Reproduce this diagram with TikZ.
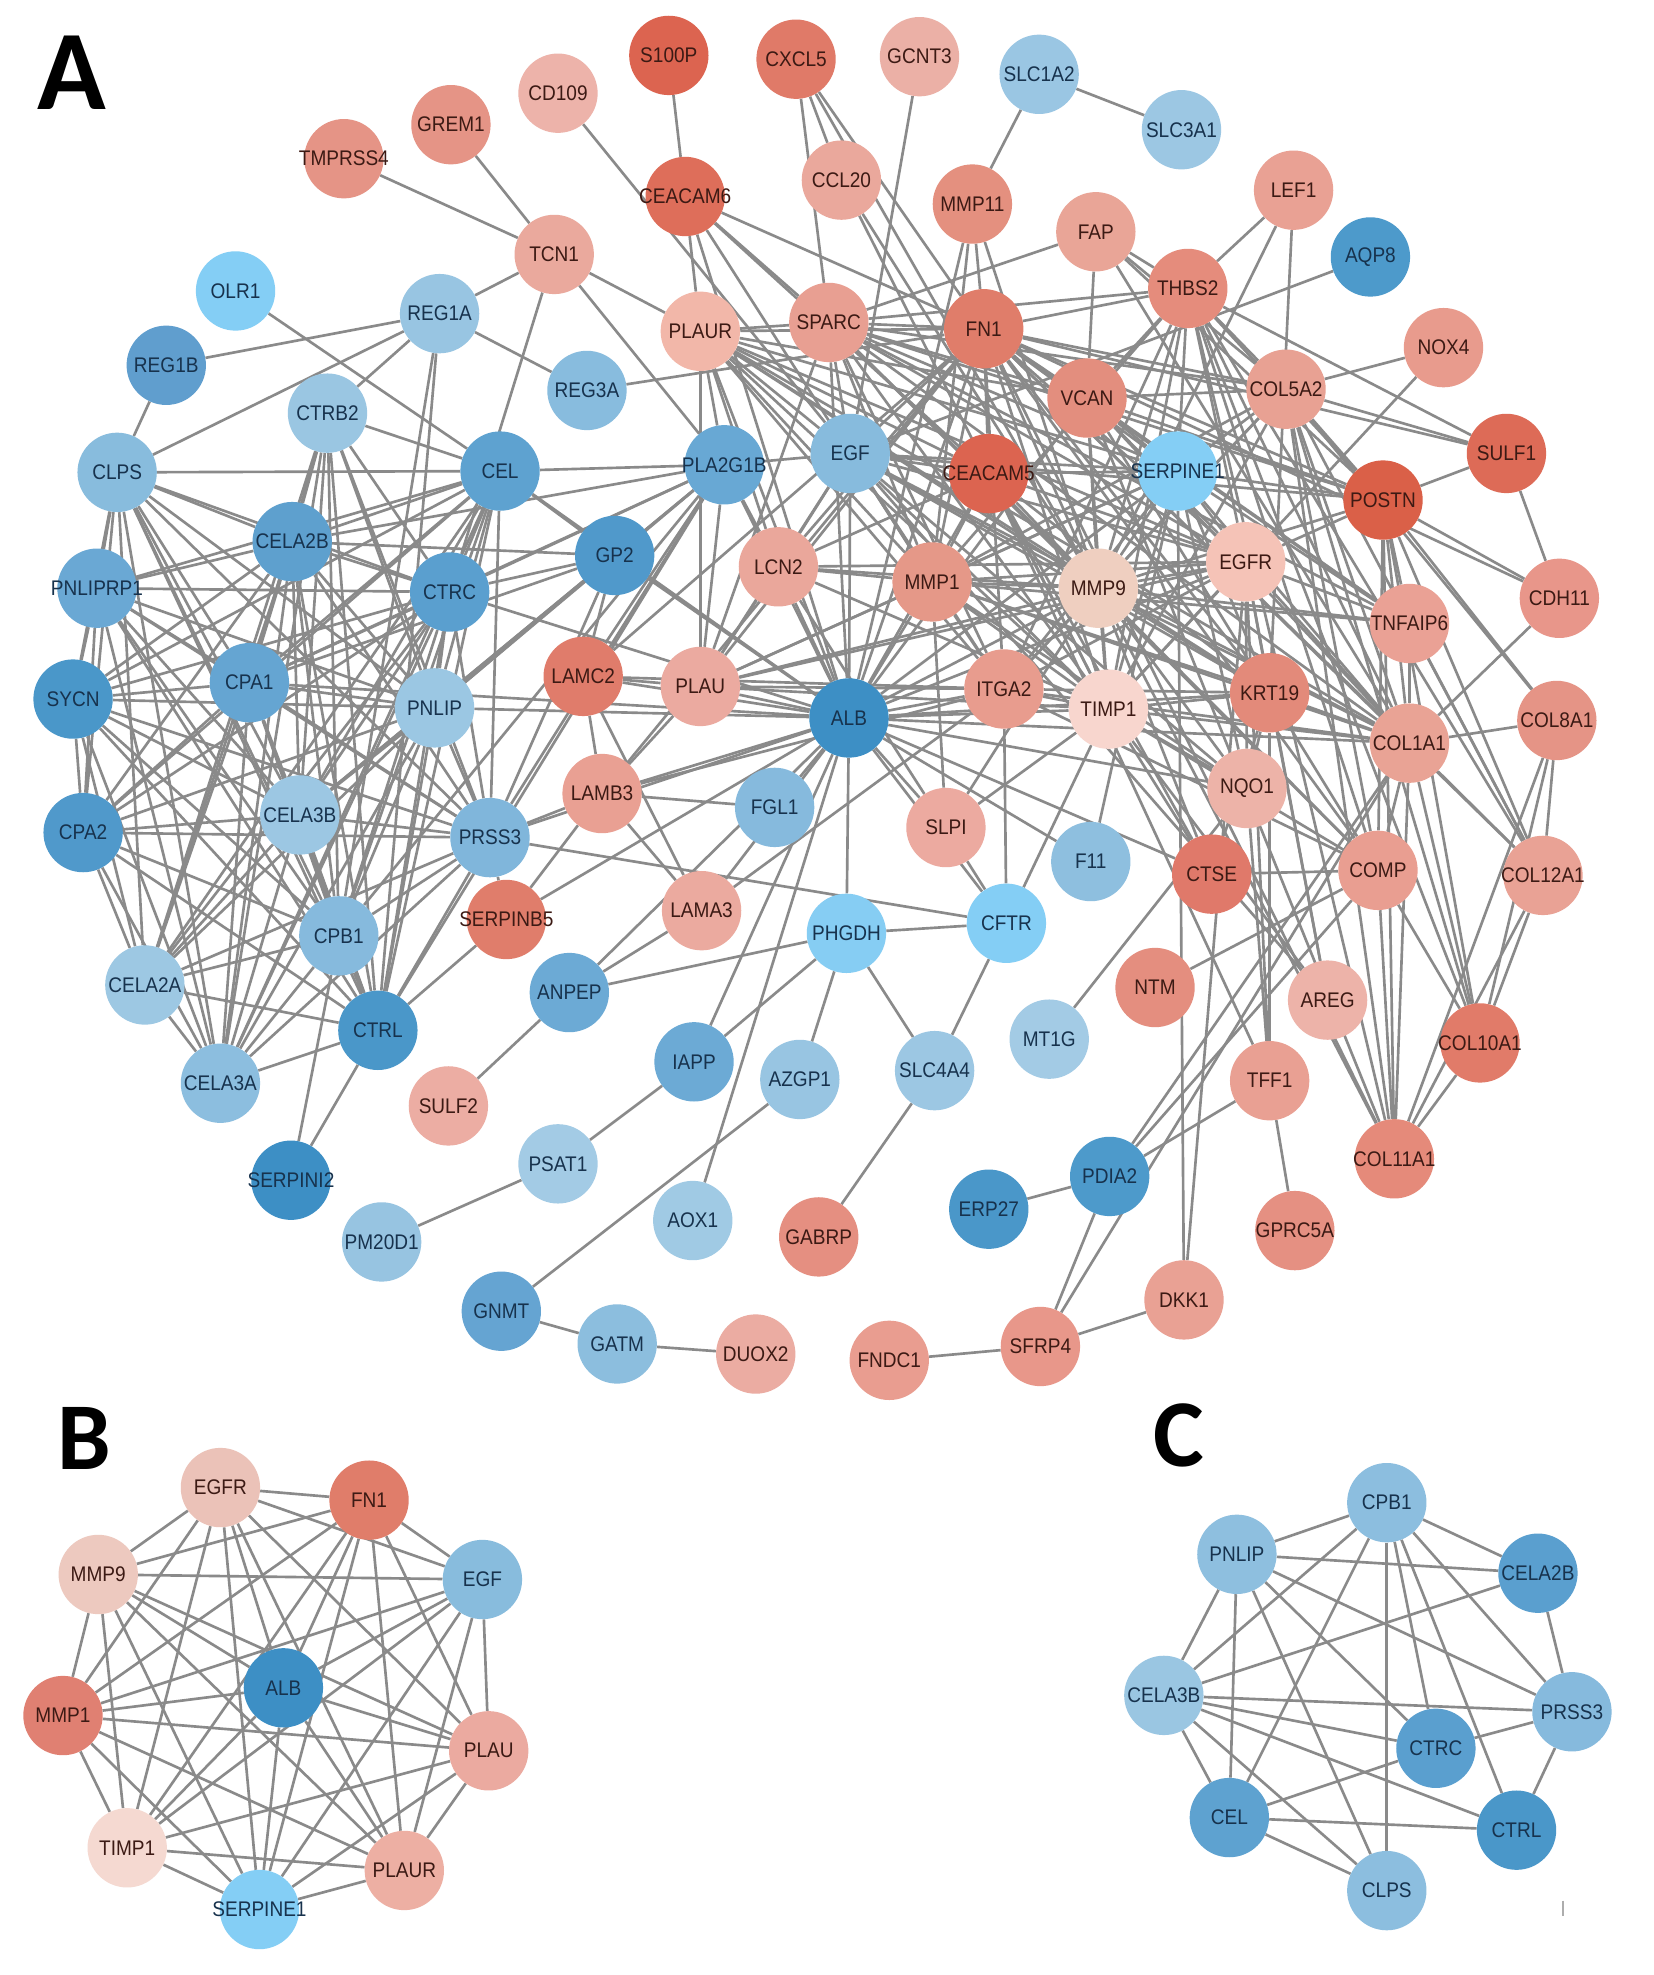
\documentclass[tikz,border=0pt]{standalone}
\usepackage{fontspec}
\setmainfont{Liberation Sans}[FakeStretch=0.9]
\newfontfamily\panelfont{Carlito}
\definecolor{rtext}{HTML}{3C1A14}
\definecolor{btext}{HTML}{17324D}
\definecolor{edgegray}{HTML}{8A8A8A}
\pgfdeclarelayer{bglayer}
\pgfdeclarelayer{edgelayer}
\pgfsetlayers{bglayer,edgelayer,main}
\tikzset{
  gn/.style={circle, minimum size=63pt, inner sep=0pt, draw=none, font=\fontsize{16.8}{16.8}\selectfont},
  edge/.style={draw=edgegray, line width=2.1pt},
  letter/.style={inner sep=0pt, text=black}
}
\newcommand\RN[5]{\definecolor{fc#1}{HTML}{#4}\node[gn, fill=fc#1, text=rtext] (#1) at (#2,-#3) {\makebox[0pt]{#5}};}
\newcommand\BN[5]{\definecolor{fc#1}{HTML}{#4}\node[gn, fill=fc#1, text=btext] (#1) at (#2,-#3) {\makebox[0pt]{#5}};}
\begin{document}
\begin{tikzpicture}[x=1pt,y=1pt]
\begin{pgfonlayer}{bglayer}
\fill[white] (0,0) rectangle (1313,-1568);
\end{pgfonlayer}
\useasboundingbox (0,0) rectangle (1313,-1568);

% panel letters
\node[letter, font={\panelfont\bfseries\fontsize{90}{90}\selectfont}] (lA) at (57,-58) {A};
\node[letter, font={\panelfont\bfseries\fontsize{76}{76}\selectfont}] (lB) at (67,-1142) {B};
\node[letter, font={\panelfont\bfseries\fontsize{76}{76}\selectfont}] (lC) at (936,-1140) {C};

% ---------- panel A nodes ----------
\RN{S100P}{531}{44}{DC6450}{S100P}
\RN{CXCL5}{632}{47}{E07A68}{CXCL5}
\RN{GCNT3}{730}{45}{EBB0A6}{GCNT3}
\BN{SLC1A2}{825}{59}{9AC6E3}{SLC1A2}
\BN{SLC3A1}{938}{103}{9CC7E3}{SLC3A1}
\RN{CD109}{443}{74}{EDB3AA}{CD109}
\RN{GREM1}{358}{99}{E59486}{GREM1}
\RN{TMPRSS4}{273}{126}{E59486}{TMPRSS4}
\RN{CEACAM6}{544}{156}{DE6E5A}{CEACAM6}
\RN{CCL20}{668}{143}{EAA89C}{CCL20}
\RN{MMP11}{772}{162}{E4907F}{MMP11}
\RN{FAP}{870}{184}{E9A597}{FAP}
\RN{LEF1}{1027}{151}{E9A194}{LEF1}
\BN{AQP8}{1088}{204}{4D9ACB}{AQP8}
\RN{TCN1}{440}{202}{EAA99D}{TCN1}
\BN{OLR1}{187}{231}{84CEF5}{OLR1}
\BN{REG1A}{349}{249}{98C5E2}{REG1A}
\RN{PLAUR}{556}{263}{F2B7A9}{PLAUR}
\RN{SPARC}{658}{256}{E89F92}{SPARC}
\RN{FN1}{781}{261}{E07D6A}{FN1}
\RN{THBS2}{943}{229}{E58C7C}{THBS2}
\RN{NOX4}{1146}{276}{E89B8D}{NOX4}
\BN{REG1B}{132}{290}{609ECE}{REG1B}
\BN{REG3A}{466}{310}{88BCDE}{REG3A}
\RN{VCAN}{863}{316}{E38E7E}{VCAN}
\RN{COL5A2}{1021}{309}{E8A193}{COL5A2}
\RN{SULF1}{1196}{360}{DD6B57}{SULF1}
\BN{CTRB2}{260}{328}{9AC6E2}{CTRB2}
\BN{CLPS}{93}{375}{88BCDD}{CLPS}
\BN{CEL}{397}{374}{5EA2D0}{CEL}
\BN{PLA2G1B}{575}{369}{68A8D4}{PLA2G1B}
\BN{EGF}{675}{360}{87BBDD}{EGF}
\RN{CEACAM5}{785}{376}{DC6450}{CEACAM5}
\BN{SERPINE1}{935}{374}{84CEF5}{SERPINE1}
\RN{POSTN}{1098}{397}{DA6048}{POSTN}
\BN{CELA2B}{232}{430}{5EA0CE}{CELA2B}
\BN{GP2}{488}{441}{5099CB}{GP2}
\BN{CTRC}{357}{470}{5A9FCF}{CTRC}
\BN{PNLIPRP1}{77}{467}{6AA8D4}{PNLIPRP1}
\RN{LCN2}{618}{450}{EAA79B}{LCN2}
\RN{MMP1}{740}{462}{E59888}{MMP1}
\RN{MMP9}{872}{467}{EFCFC0}{MMP9}
\RN{EGFR}{989}{446}{F5C3B7}{EGFR}
\RN{CDH11}{1238}{475}{E8968A}{CDH11}
\RN{TNFAIP6}{1119}{495}{EAA195}{TNFAIP6}
\BN{SYCN}{58}{555}{4A97C9}{SYCN}
\BN{CPA1}{198}{542}{65A5D2}{CPA1}
\BN{PNLIP}{345}{562}{9BC7E3}{PNLIP}
\RN{LAMC2}{463}{537}{E07C6B}{LAMC2}
\RN{PLAU}{556}{545}{EBAAA0}{PLAU}
\BN{ALB}{674}{570}{3D8FC5}{ALB}
\RN{ITGA2}{797}{547}{E89C8E}{ITGA2}
\RN{TIMP1}{880}{563}{F8D6CE}{TIMP1}
\RN{KRT19}{1008}{550}{E38A7A}{KRT19}
\RN{COL1A1}{1119}{590}{E9A395}{COL1A1}
\RN{COL8A1}{1236}{572}{E59486}{COL8A1}
\BN{CPA2}{66}{661}{5099CB}{CPA2}
\BN{CELA3B}{238}{647}{9CC7E3}{CELA3B}
\BN{PRSS3}{389}{665}{80B6DB}{PRSS3}
\RN{LAMB3}{478}{630}{E9A093}{LAMB3}
\BN{FGL1}{615}{641}{86BADD}{FGL1}
\RN{SLPI}{751}{657}{ECAAA0}{SLPI}
\RN{NQO1}{990}{626}{EDB3A8}{NQO1}
\BN{F11}{866}{684}{8EBFDF}{F11}
\RN{CTSE}{962}{694}{E0796A}{CTSE}
\RN{COMP}{1094}{691}{E99E91}{COMP}
\RN{COL12A1}{1225}{695}{E9A295}{COL12A1}
\RN{SERPINB5}{402}{730}{E07D6B}{SERPINB5}
\RN{LAMA3}{557}{723}{EBAA9F}{LAMA3}
\BN{CPB1}{269}{743}{86BADD}{CPB1}
\BN{PHGDH}{672}{741}{86CDF3}{PHGDH}
\BN{CFTR}{799}{733}{84CEF5}{CFTR}
\BN{CELA2A}{115}{782}{9DC8E3}{CELA2A}
\BN{ANPEP}{452}{788}{6CAAD5}{ANPEP}
\RN{NTM}{917}{784}{E48E7F}{NTM}
\RN{AREG}{1054}{794}{EDB3A9}{AREG}
\RN{COL10A1}{1175}{828}{E17B69}{COL10A1}
\BN{CTRL}{300}{818}{4A97C9}{CTRL}
\BN{MT1G}{833}{825}{A3CBE5}{MT1G}
\BN{IAPP}{551}{843}{6CAAD5}{IAPP}
\BN{AZGP1}{635}{857}{98C5E2}{AZGP1}
\BN{SLC4A4}{742}{850}{9CC7E3}{SLC4A4}
\RN{TFF1}{1008}{858}{E9A093}{TFF1}
\BN{CELA3A}{175}{860}{8CBEDF}{CELA3A}
\RN{SULF2}{356}{878}{ECADA3}{SULF2}
\RN{COL11A1}{1107}{920}{E58A7A}{COL11A1}
\BN{PSAT1}{443}{924}{A3CBE5}{PSAT1}
\BN{SERPINI2}{231}{937}{3D8FC5}{SERPINI2}
\BN{PDIA2}{881}{934}{4D9ACB}{PDIA2}
\BN{ERP27}{785}{960}{4A97C9}{ERP27}
\BN{AOX1}{550}{969}{A0CAE4}{AOX1}
\RN{GABRP}{650}{982}{E58F81}{GABRP}
\RN{GPRC5A}{1028}{977}{E59082}{GPRC5A}
\BN{PM20D1}{303}{986}{97C4E1}{PM20D1}
\RN{DKK1}{940}{1032}{E9A194}{DKK1}
\BN{GNMT}{398}{1041}{65A4D2}{GNMT}
\BN{GATM}{490}{1067}{8CBEDE}{GATM}
\RN{DUOX2}{600}{1075}{EBACA2}{DUOX2}
\RN{FNDC1}{706}{1080}{E99D90}{FNDC1}
\RN{SFRP4}{826}{1069}{E8978A}{SFRP4}

% ---------- panel B nodes ----------
\RN{B1}{175}{1181}{EBC2B8}{EGFR}
\RN{B2}{293}{1191}{E07D6A}{FN1}
\BN{B3}{383}{1254}{88BCDD}{EGF}
\RN{B4}{388}{1390}{EBAAA0}{PLAU}
\RN{B5}{321}{1485}{EDAFA3}{PLAUR}
\BN{B6}{206}{1516}{84CEF5}{SERPINE1}
\RN{B7}{101}{1467}{F5D9D1}{TIMP1}
\RN{B8}{50}{1362}{E08072}{MMP1}
\RN{B9}{78}{1250}{EDC9BF}{MMP9}
\BN{B10}{225}{1340}{3D8FC5}{ALB}

% ---------- panel C nodes ----------
\BN{cCPB1}{1101}{1193}{8CBEDF}{CPB1}
\BN{cPNLIP}{982}{1234}{8EBFDF}{PNLIP}
\BN{cCELA2B}{1221}{1249}{5A9FCF}{CELA2B}
\BN{cCELA3B}{924}{1346}{9AC6E2}{CELA3B}
\BN{cPRSS3}{1248}{1359}{86BADD}{PRSS3}
\BN{cCTRC}{1140}{1388}{5A9FCF}{CTRC}
\BN{cCEL}{976}{1443}{5EA2D0}{CEL}
\BN{cCTRL}{1204}{1453}{4A97C9}{CTRL}
\BN{cCLPS}{1101}{1501}{8CBEDF}{CLPS}

% small tick mark
\draw[edgegray!70, line width=1.2pt] (1241,-1509) -- (1241,-1521);

\begin{pgfonlayer}{edgelayer}
% periphery
\foreach \a/\b in {S100P/CEACAM6, CXCL5/CCL20, CXCL5/SPARC, CXCL5/FN1, CXCL5/MMP9, GCNT3/EGF, SLC1A2/MMP11, SLC1A2/SLC3A1, CD109/EGF, GREM1/TCN1, TMPRSS4/TCN1, TCN1/REG1A, TCN1/PLAUR, TCN1/CTRC, TCN1/PLA2G1B, OLR1/CEL, REG1A/REG1B, REG1A/CLPS, REG1A/CTRB2, REG1A/CPB1, REG1A/CTRL, REG1A/REG3A, REG1B/CLPS, CTRB2/CEL, CLPS/CEL, CEL/PLA2G1B, REG3A/FN1, CEACAM6/PLAUR, CEACAM6/SPARC, CEACAM6/FN1, CEACAM6/ALB, CEACAM6/MMP1, CEACAM6/CEACAM5, MMP11/FN1, MMP11/MMP9, MMP11/ALB, MMP11/MMP1, FAP/SPARC, FAP/THBS2, FAP/POSTN, FAP/COL1A1, FAP/COL5A2, FAP/VCAN, CCL20/MMP9, CCL20/TIMP1, AQP8/EGF, NOX4/COL5A2, NOX4/TIMP1, LEF1/THBS2, LEF1/KRT19, LEF1/MMP9}
  \draw[edge] (\a) -- (\b);
% hub
\foreach \a/\b in {PLAUR/SPARC, PLAUR/FN1, PLAUR/EGF, PLAUR/ALB, PLAUR/MMP9, PLAUR/MMP1, PLAUR/TIMP1, PLAUR/SERPINE1, PLAUR/EGFR, PLAUR/PLAU, PLAUR/ITGA2, PLAUR/CEACAM5, PLAUR/PLA2G1B, PLAUR/KRT19, PLAUR/COL1A1, PLAUR/VCAN, PLAUR/LCN2,
 SPARC/FN1, SPARC/EGF, SPARC/ALB, SPARC/MMP9, SPARC/MMP1, SPARC/TIMP1, SPARC/COL1A1, SPARC/COL5A2, SPARC/POSTN, SPARC/THBS2, SPARC/VCAN, SPARC/SERPINE1, SPARC/EGFR, SPARC/ITGA2, SPARC/COMP, SPARC/TNFAIP6, SPARC/PLAU,
 FN1/EGF, FN1/ALB, FN1/MMP9, FN1/MMP1, FN1/TIMP1, FN1/COL1A1, FN1/COL5A2, FN1/POSTN, FN1/THBS2, FN1/VCAN, FN1/SERPINE1, FN1/EGFR, FN1/ITGA2, FN1/CEACAM5, FN1/PLAU, FN1/LAMC2, FN1/LAMB3, FN1/COMP, FN1/TNFAIP6, FN1/CDH11, FN1/SULF1, FN1/LCN2, FN1/KRT19, FN1/COL11A1, FN1/COL12A1,
 EGF/ALB, EGF/EGFR, EGF/MMP9, EGF/MMP1, EGF/TIMP1, EGF/SERPINE1, EGF/PLA2G1B, EGF/CEACAM5, EGF/KRT19, EGF/ITGA2, EGF/PLAU, EGF/LCN2, EGF/AREG, EGF/NQO1, EGF/COL1A1, EGF/POSTN,
 CEACAM5/EGFR, CEACAM5/MMP9, CEACAM5/KRT19, CEACAM5/TIMP1, CEACAM5/ALB, CEACAM5/MMP1, CEACAM5/SERPINE1, CEACAM5/LCN2, CEACAM5/CTSE, CEACAM5/TFF1,
 VCAN/THBS2, VCAN/COL5A2, VCAN/POSTN, VCAN/COL1A1, VCAN/MMP9, VCAN/TIMP1, VCAN/SERPINE1, VCAN/EGFR, VCAN/COL11A1, VCAN/COMP, VCAN/TNFAIP6, VCAN/ALB,
 THBS2/COL5A2, THBS2/POSTN, THBS2/COL1A1, THBS2/SULF1, THBS2/MMP9, THBS2/TIMP1, THBS2/SERPINE1, THBS2/COMP, THBS2/COL11A1, THBS2/COL12A1, THBS2/COL10A1, THBS2/MMP1, THBS2/EGFR, THBS2/ITGA2,
 COL5A2/POSTN, COL5A2/COL1A1, COL5A2/COL11A1, COL5A2/COL12A1, COL5A2/COL10A1, COL5A2/COL8A1, COL5A2/COMP, COL5A2/MMP9, COL5A2/SERPINE1, COL5A2/ITGA2, COL5A2/TIMP1, COL5A2/SULF1, COL5A2/MMP1,
 SERPINE1/EGFR, SERPINE1/MMP9, SERPINE1/TIMP1, SERPINE1/ALB, SERPINE1/MMP1, SERPINE1/POSTN, SERPINE1/COL1A1, SERPINE1/PLAU, SERPINE1/ITGA2, SERPINE1/KRT19, SERPINE1/DKK1, SERPINE1/NQO1, SERPINE1/TNFAIP6,
 POSTN/SULF1, POSTN/CDH11, POSTN/TNFAIP6, POSTN/COL1A1, POSTN/COL8A1, POSTN/COL11A1, POSTN/COL10A1, POSTN/COL12A1, POSTN/COMP, POSTN/EGFR, POSTN/MMP9,
 EGFR/MMP9, EGFR/TIMP1, EGFR/ALB, EGFR/MMP1, EGFR/KRT19, EGFR/ITGA2, EGFR/COL1A1, EGFR/AREG, EGFR/DKK1, EGFR/NQO1, EGFR/TNFAIP6, EGFR/PLAU, EGFR/LCN2, EGFR/TFF1,
 MMP9/MMP1, MMP9/TIMP1, MMP9/ALB, MMP9/ITGA2, MMP9/LCN2, MMP9/KRT19, MMP9/COL1A1, MMP9/PLAU, MMP9/TNFAIP6, MMP9/NQO1, MMP9/COMP, MMP9/SLPI, MMP9/CTSE, MMP9/COL11A1,
 MMP1/TIMP1, MMP1/ALB, MMP1/ITGA2, MMP1/LCN2, MMP1/PLAU, MMP1/COL1A1, MMP1/KRT19, MMP1/SLPI, MMP1/TNFAIP6, MMP1/NQO1,
 LCN2/ALB, LCN2/PLAU, LCN2/TIMP1, LCN2/SLPI, LCN2/PLA2G1B}
  \draw[edge] (\a) -- (\b);
\foreach \a/\b in {ALB/PLA2G1B, ALB/PLAU, ALB/LAMC2, ALB/LAMB3, ALB/FGL1, ALB/SLPI, ALB/ITGA2, ALB/TIMP1, ALB/PHGDH, ALB/CFTR, ALB/IAPP, ALB/AOX1, ALB/ANPEP, ALB/GP2, ALB/CEL, ALB/PNLIP, ALB/PRSS3, ALB/CTRC, ALB/SERPINB5, ALB/LAMA3, ALB/NQO1, ALB/KRT19, ALB/COL1A1, ALB/CPA1, ALB/CTSE, ALB/F11,
 ITGA2/TIMP1, ITGA2/CFTR, ITGA2/COL1A1, ITGA2/LAMB3, ITGA2/LAMC2, ITGA2/LAMA3, ITGA2/PLAU, ITGA2/KRT19, ITGA2/COMP,
 TIMP1/KRT19, TIMP1/COL1A1, TIMP1/NQO1, TIMP1/CFTR, TIMP1/PLAU, TIMP1/SLPI, TIMP1/COMP, TIMP1/CTSE, TIMP1/AREG,
 KRT19/COL1A1, KRT19/NQO1, KRT19/TFF1, KRT19/CTSE, KRT19/AREG,
 COL1A1/TNFAIP6, COL1A1/CDH11, COL1A1/COL8A1, COL1A1/COMP, COL1A1/COL12A1, COL1A1/COL10A1, COL1A1/COL11A1, COL1A1/PDIA2, COL1A1/SFRP4,
 TNFAIP6/COL12A1, CDH11/SULF1,
 COL8A1/COL12A1, COL8A1/COL10A1, COL8A1/COL11A1,
 COL12A1/COL11A1, COL12A1/COL10A1,
 COMP/CTSE, COMP/COL11A1, COMP/COL10A1, COMP/NTM, COMP/PDIA2,
 COL10A1/COL11A1,
 TFF1/GPRC5A, TFF1/PDIA2, TFF1/NQO1,
 PDIA2/ERP27, PDIA2/SFRP4, SFRP4/DKK1, SFRP4/FNDC1,
 MT1G/NQO1,
 PLAU/LAMC2, PLAU/LAMB3, PLAU/PLA2G1B,
 LAMC2/LAMB3, LAMC2/GP2, LAMC2/PLA2G1B, LAMC2/LAMA3,
 LAMB3/LAMA3, LAMB3/PRSS3, LAMB3/SERPINB5,
 FGL1/LAMB3, SLPI/CFTR,
 CFTR/PHGDH, CFTR/SLC4A4, CFTR/PRSS3, F11/SERPINE1,
 PHGDH/ANPEP, PHGDH/IAPP, PHGDH/AZGP1, PHGDH/SLC4A4,
 AZGP1/GNMT, SLC4A4/GABRP, IAPP/PSAT1, ANPEP/SULF2, ANPEP/LAMA3,
 PSAT1/PM20D1, GNMT/GATM, GATM/DUOX2,
 SERPINI2/CTRL, SERPINI2/CPB1, SERPINB5/CTRL, SERPINB5/PRSS3}
  \draw[edge] (\a) -- (\b);
% pancreatic cluster
\foreach \a/\b in {GP2/CEL, GP2/CTRC, GP2/PLA2G1B, GP2/PNLIP, GP2/CELA3B, GP2/PRSS3, GP2/CPA1, GP2/CELA2B,
 PLA2G1B/CTRC, PLA2G1B/PNLIP, PLA2G1B/PRSS3, PLA2G1B/CPB1, PLA2G1B/CTRL, PLA2G1B/CELA3B, PLA2G1B/CELA2B, PLA2G1B/CPA1,
 CLPS/PNLIPRP1, CLPS/SYCN, CLPS/CPA1, CLPS/PNLIP, CLPS/CPA2, CLPS/CELA3B, CLPS/PRSS3, CLPS/CPB1, CLPS/CELA2A, CLPS/CTRL, CLPS/CELA3A, CLPS/CTRC, CLPS/CELA2B,
 CTRB2/CPB1, CTRB2/CELA3B, CTRB2/CTRL, CTRB2/CELA3A, CTRB2/CELA2A, CTRB2/PRSS3, CTRB2/CPA1, CTRB2/CTRC, CTRB2/PNLIP, CTRB2/CELA2B,
 CEL/CELA2B, CEL/CTRC, CEL/CPA1, CEL/PNLIP, CEL/PRSS3, CEL/CPB1, CEL/CTRL, CEL/CELA3B, CEL/CELA3A, CEL/SYCN, CEL/CPA2, CEL/PNLIPRP1, CEL/CELA2A,
 CELA2B/PNLIPRP1, CELA2B/CTRC, CELA2B/SYCN, CELA2B/CPA1, CELA2B/PNLIP, CELA2B/CELA3B, CELA2B/PRSS3, CELA2B/CPB1, CELA2B/CTRL, CELA2B/CELA3A, CELA2B/CELA2A, CELA2B/CPA2,
 PNLIPRP1/CPA1, PNLIPRP1/PNLIP, PNLIPRP1/CELA3B, PNLIPRP1/CTRC, PNLIPRP1/CPB1, PNLIPRP1/CELA3A, PNLIPRP1/CPA2, PNLIPRP1/SYCN, PNLIPRP1/CTRL, PNLIPRP1/PRSS3,
 CTRC/CPA1, CTRC/PNLIP, CTRC/CELA3B, CTRC/PRSS3, CTRC/CPB1, CTRC/CTRL, CTRC/CELA3A, CTRC/CELA2A, CTRC/SYCN, CTRC/CPA2,
 SYCN/CPA1, SYCN/PNLIP, SYCN/CELA3B, SYCN/CPB1, SYCN/CTRL, SYCN/CELA3A, SYCN/CELA2A, SYCN/CPA2, SYCN/PRSS3,
 CPA1/PNLIP, CPA1/CELA3B, CPA1/PRSS3, CPA1/CPB1, CPA1/CTRL, CPA1/CELA3A, CPA1/CELA2A, CPA1/CPA2,
 PNLIP/CELA3B, PNLIP/PRSS3, PNLIP/CPB1, PNLIP/CTRL, PNLIP/CELA3A, PNLIP/CELA2A, PNLIP/CPA2,
 CPA2/CELA3B, CPA2/PRSS3, CPA2/CPB1, CPA2/CELA3A, CPA2/CELA2A, CPA2/CTRL,
 CELA3B/PRSS3, CELA3B/CPB1, CELA3B/CTRL, CELA3B/CELA3A, CELA3B/CELA2A,
 PRSS3/CPB1, PRSS3/CTRL, PRSS3/CELA3A, PRSS3/CELA2A,
 CPB1/CTRL, CPB1/CELA3A, CPB1/CELA2A,
 CELA2A/CTRL, CELA2A/CELA3A, CTRL/CELA3A}
  \draw[edge] (\a) -- (\b);
% panel B: complete graph
\foreach \i in {1,...,9}{
  \pgfmathtruncatemacro\k{\i+1}
  \foreach \j in {\k,...,10}{\draw[edge] (B\i) -- (B\j);}
}
% panel C
\foreach \a/\b in {cCPB1/cPNLIP, cCPB1/cCELA2B, cCPB1/cCELA3B, cCPB1/cCEL, cCPB1/cCLPS, cCPB1/cCTRC, cCPB1/cCTRL, cCPB1/cPRSS3,
 cPNLIP/cCELA2B, cPNLIP/cCELA3B, cPNLIP/cCEL, cPNLIP/cCLPS, cPNLIP/cCTRC, cPNLIP/cPRSS3,
 cCELA2B/cCELA3B, cCELA2B/cPRSS3, cCELA3B/cPRSS3, cCELA3B/cCTRC, cCELA3B/cCTRL, cCELA3B/cCEL, cCELA3B/cCLPS,
 cCTRC/cPRSS3, cCTRC/cCEL, cCTRL/cPRSS3, cCEL/cCTRL, cCEL/cCLPS}
  \draw[edge] (\a) -- (\b);
\end{pgfonlayer}
\end{tikzpicture}
\end{document}
